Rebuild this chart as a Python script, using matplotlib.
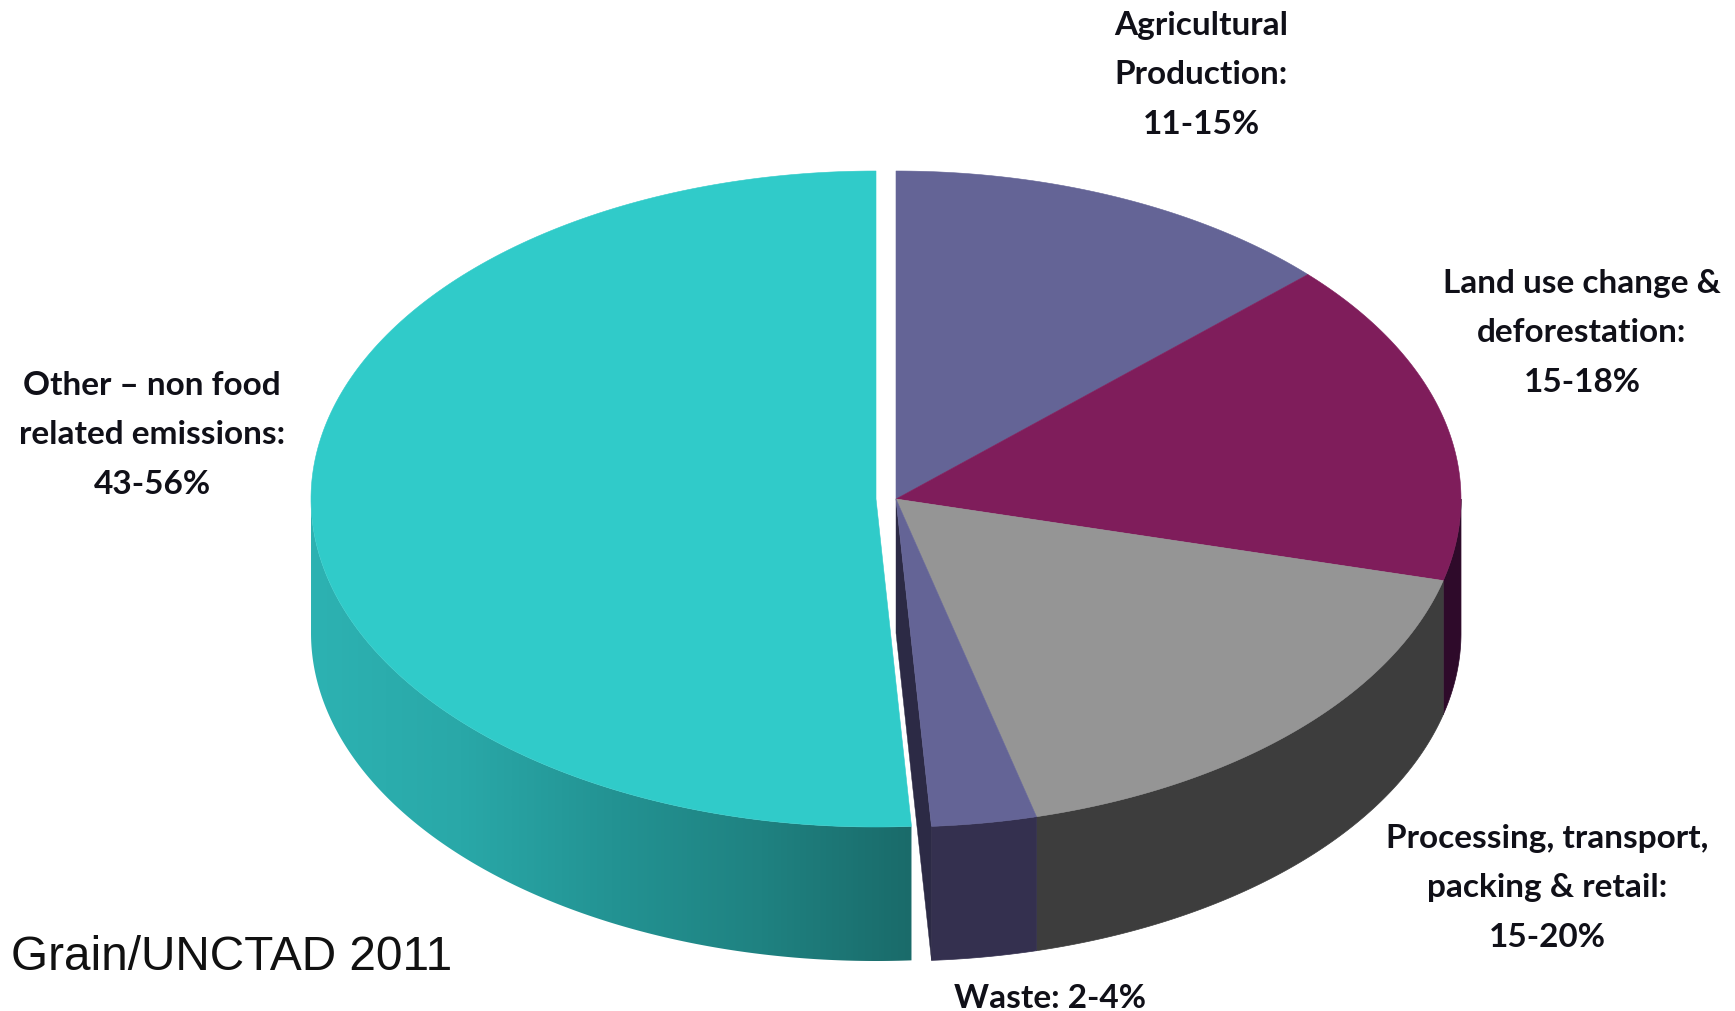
import matplotlib
matplotlib.use('Agg')
import matplotlib.pyplot as plt
from matplotlib.colors import LinearSegmentedColormap
from matplotlib.patches import Polygon
import numpy as np

# clockwise from 12 o'clock
slice_names = ['Agricultural', 'Land use', 'Processing', 'Waste', 'Other']
slice_values = [13, 16, 17, 3, 51]
top_colors = ['#646496', '#7F1D5B', '#959595', '#646496', '#30CBC9']
side_colors = ['#34304F', '#2E0A2A', '#3D3D3D', '#34304F', '#2BADAD']
teal_side_stops = ['#2DB2B2', '#29A8A8', '#239393', '#1F8281', '#1A6B6A']

labels = [
    ('Agricultural\nProduction:\n11-15%', 1201, 75),
    ('Land use change &\ndeforestation:\n15-18%', 1582, 333),
    ('Processing, transport,\npacking & retail:\n15-20%', 1547, 888),
    ('Waste: 2-4%', 1050, 999),
    ('Other \u2013 non food\nrelated emissions:\n43-56%', 152, 435),
]
source = 'Grain/UNCTAD 2011'

CX, CY = 896, 499
RX, RY = 565, 328
DEPTH = 134
TEAL_SHIFT = -20


def rim(a0, a1, cx=CX, cy=CY, n=200):
    a = np.radians(np.linspace(a0, a1, n))
    return np.column_stack([cx + RX * np.sin(a), cy - RY * np.cos(a)])


fig = plt.figure(figsize=(17.35, 10.11), dpi=100)
ax = fig.add_axes([0, 0, 1, 1])

edges = np.concatenate([[0], np.cumsum(slice_values)]) * 360 / sum(slice_values)

# sides first
for i, name in enumerate(slice_names):
    a0, a1 = edges[i], edges[i + 1]
    cx = CX + TEAL_SHIFT if name == 'Other' else CX
    s0, s1 = max(a0, 90), min(a1, 270)
    if s0 >= s1:
        continue
    top = rim(s0, s1, cx)
    bottom = top[::-1] + [0, DEPTH]
    outline = np.vstack([top, bottom])
    if name == 'Other':
        cmap = LinearSegmentedColormap.from_list('teal_side', teal_side_stops)
        grad = np.linspace(0, 1, 512).reshape(1, -1)
        im = ax.imshow(grad, cmap=cmap, aspect='auto',
                       extent=[outline[:, 0].min(), outline[:, 0].max(), outline[:, 1].max(), outline[:, 1].min()])
        im.set_clip_path(Polygon(outline, transform=ax.transData))
    else:
        ax.add_patch(Polygon(outline, closed=True, fc=side_colors[i], ec=side_colors[i], lw=0.5))

# cut face of the waste slice, seen through the gap
waste_edge = edges[slice_names.index('Other')]
p = rim(waste_edge, waste_edge, n=1)[0]
ax.add_patch(Polygon([(CX, CY), p, p + [0, DEPTH], (CX, CY + DEPTH)], closed=True,
                     fc='#2C2A45', ec='#2C2A45', lw=0.3))

# top faces
for i, name in enumerate(slice_names):
    cx = CX + TEAL_SHIFT if name == 'Other' else CX
    pts = np.vstack([[cx, CY], rim(edges[i], edges[i + 1], cx)])
    ax.add_patch(Polygon(pts, closed=True, fc=top_colors[i], ec=top_colors[i], lw=0.4))

for text, x, y in labels:
    ax.text(x, y, text, ha='center', va='center', family='Lato', fontweight='bold',
            fontsize=24, linespacing=1.86, color='#101018')

ax.text(11, 957, source, ha='left', va='center', family='Liberation Sans', fontsize=34.4, color='#111111')

ax.set_xlim(0, 1735)
ax.set_ylim(1011, 0)
ax.axis('off')

plt.savefig('out.png', dpi=100, facecolor='white')
plt.close()
